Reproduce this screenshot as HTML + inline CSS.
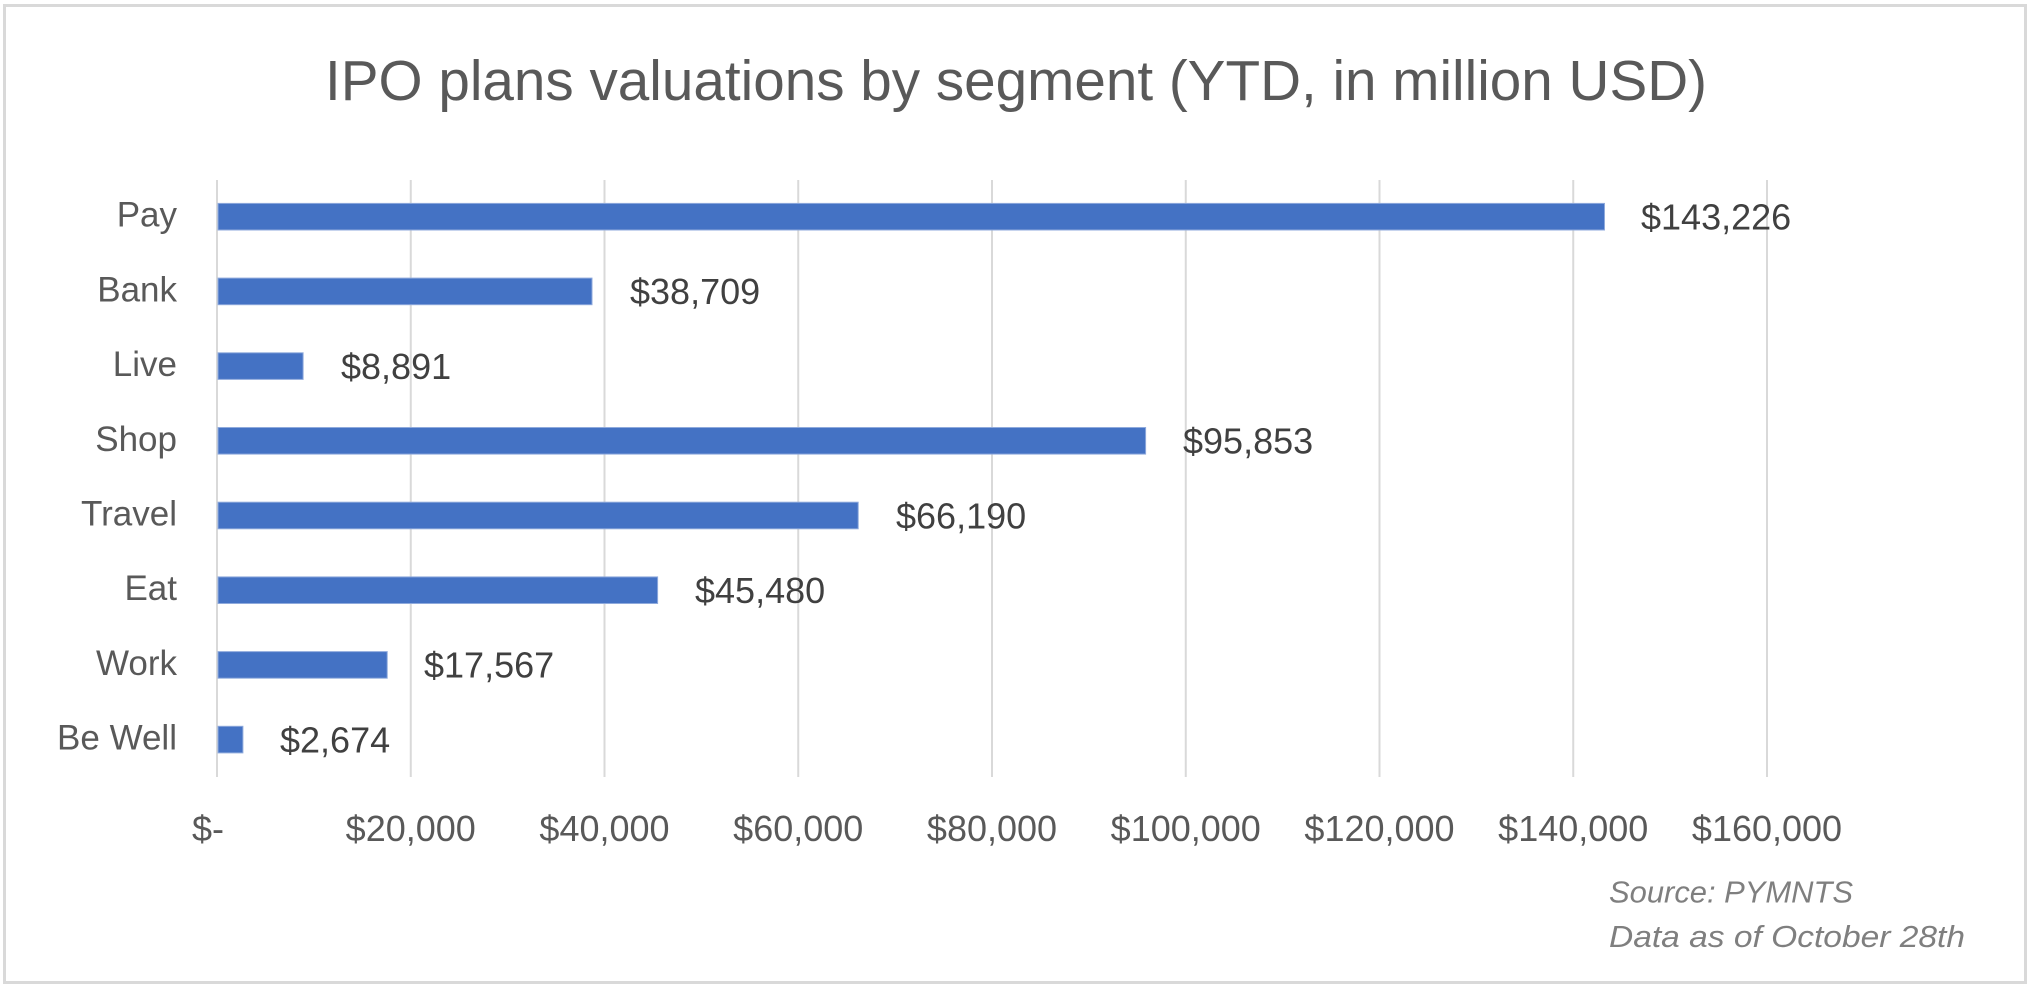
<!DOCTYPE html>
<html>
<head>
<meta charset="utf-8">
<style>
  html, body { margin:0; padding:0; background:#ffffff; }
  svg { display:block; }
  text { font-family: "Liberation Sans", Arial, sans-serif; }
</style>
</head>
<body>
<svg width="2035" height="990" viewBox="0 0 2035 990" xmlns="http://www.w3.org/2000/svg">
  <rect x="0" y="0" width="2035" height="990" fill="#ffffff"/>
  <!-- outer border -->
  <rect x="4.5" y="5.5" width="2021" height="977" fill="none" stroke="#d9d9d9" stroke-width="3"/>

  <!-- title -->
  <text x="325" y="100" font-size="57" fill="#595959" textLength="1382" lengthAdjust="spacingAndGlyphs">IPO plans valuations by segment (YTD, in million USD)</text>

  <!-- gridlines -->
  <g stroke="#d9d9d9" stroke-width="2">
    <line x1="217" y1="180" x2="217" y2="777"/>
    <line x1="410.75" y1="180" x2="410.75" y2="777"/>
    <line x1="604.5" y1="180" x2="604.5" y2="777"/>
    <line x1="798.25" y1="180" x2="798.25" y2="777"/>
    <line x1="992" y1="180" x2="992" y2="777"/>
    <line x1="1185.75" y1="180" x2="1185.75" y2="777"/>
    <line x1="1379.5" y1="180" x2="1379.5" y2="777"/>
    <line x1="1573.25" y1="180" x2="1573.25" y2="777"/>
    <line x1="1767" y1="180" x2="1767" y2="777"/>
  </g>

  <!-- bars -->
  <g fill="#4472c4" stroke="#8faadc" stroke-width="1">
    <rect x="218" y="203.4" width="1386.5" height="26.6"/>
    <rect x="218" y="278.1" width="374.0" height="26.6"/>
    <rect x="218" y="352.8" width="85.1" height="26.6"/>
    <rect x="218" y="427.5" width="927.6" height="26.6"/>
    <rect x="218" y="502.2" width="640.2" height="26.6"/>
    <rect x="218" y="576.9" width="439.6" height="26.6"/>
    <rect x="218" y="651.6" width="169.2" height="26.6"/>
    <rect x="218" y="726.3" width="24.9" height="26.6"/>
  </g>

  <!-- category labels -->
  <g font-size="35" fill="#595959" text-anchor="end">
    <text x="177" y="226.7">Pay</text>
    <text x="177" y="301.4">Bank</text>
    <text x="177" y="376.1">Live</text>
    <text x="177" y="450.8">Shop</text>
    <text x="177" y="525.5">Travel</text>
    <text x="177" y="600.2">Eat</text>
    <text x="177" y="674.9">Work</text>
    <text x="177" y="749.6">Be Well</text>
  </g>

  <!-- value labels -->
  <g font-size="36" fill="#404040">
    <text x="1641" y="229.5">$143,226</text>
    <text x="630" y="304.2">$38,709</text>
    <text x="341" y="378.9">$8,891</text>
    <text x="1183" y="453.6">$95,853</text>
    <text x="896" y="528.3">$66,190</text>
    <text x="695" y="603.0">$45,480</text>
    <text x="424" y="677.7">$17,567</text>
    <text x="280" y="752.4">$2,674</text>
  </g>

  <!-- x axis labels -->
  <g font-size="36" fill="#595959" text-anchor="middle">
    <text x="208" y="841" text-anchor="middle">$-</text>
    <text x="410.75" y="841">$20,000</text>
    <text x="604.5" y="841">$40,000</text>
    <text x="798.25" y="841">$60,000</text>
    <text x="992" y="841">$80,000</text>
    <text x="1185.75" y="841">$100,000</text>
    <text x="1379.5" y="841">$120,000</text>
    <text x="1573.25" y="841">$140,000</text>
    <text x="1767" y="841">$160,000</text>
  </g>

  <!-- source -->
  <g font-size="31" fill="#7f7f7f" font-style="italic">
    <text x="1609" y="902.5" textLength="244" lengthAdjust="spacingAndGlyphs">Source: PYMNTS</text>
    <text x="1609" y="947" textLength="356" lengthAdjust="spacingAndGlyphs">Data as of October 28th</text>
  </g>
</svg>
</body>
</html>
